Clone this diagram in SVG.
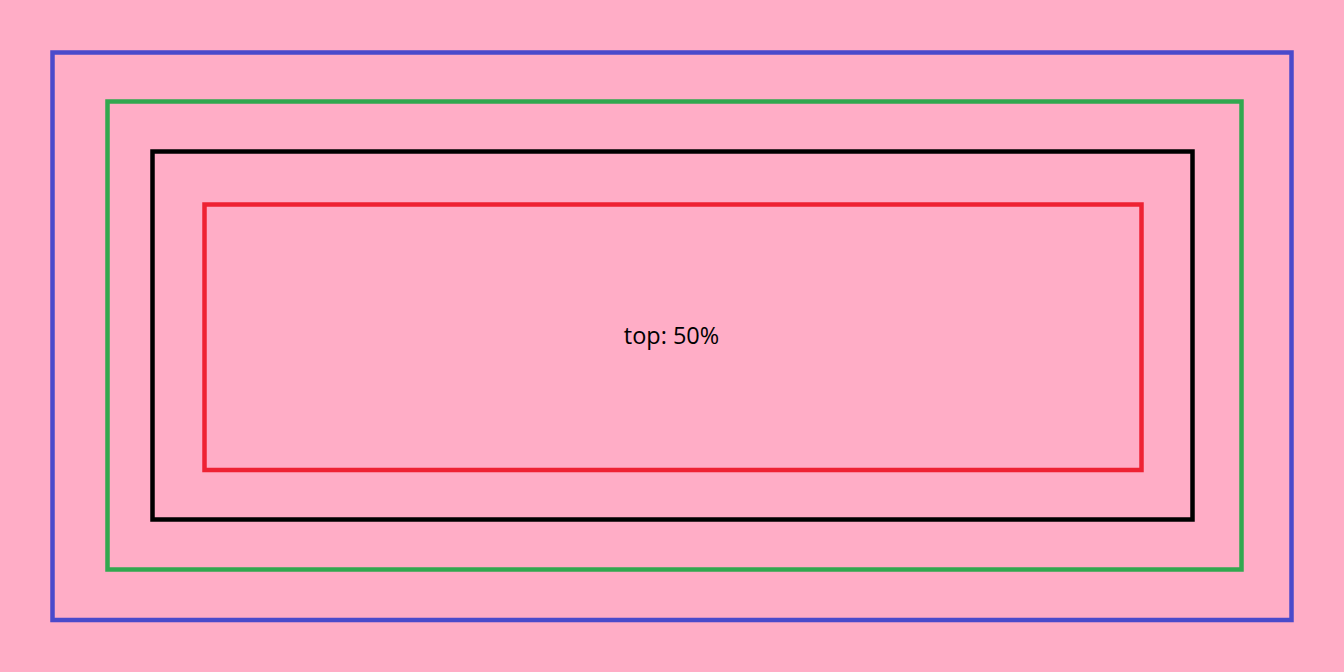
<svg xmlns="http://www.w3.org/2000/svg" width="1344" height="672" viewBox="0 0 1344 672">
<style>
.box{fill:none;stroke-width:4.5}
.lbl{font-family:"Open Sans","Noto Sans",sans-serif;font-size:23.5px;fill:#000;text-anchor:middle}
</style>
<rect width="1344" height="672" fill="#FFADC6"/>
<g id="outer"><rect class="box" x="52.5" y="52.5" width="1239" height="567.5" stroke="#4A4ACB"/></g>
<g id="green"><rect class="box" x="107.5" y="101.5" width="1134" height="468" stroke="#31A84F"/></g>
<g id="black"><rect class="box" x="152.5" y="151.5" width="1040" height="368" stroke="#000"/></g>
<g id="red"><rect class="box" x="204.5" y="204.5" width="937" height="265.5" stroke="#EE2233"/>
<text class="lbl" x="671.5" y="344">top: 50%</text></g>
<g id="connectors"/>
</svg>
